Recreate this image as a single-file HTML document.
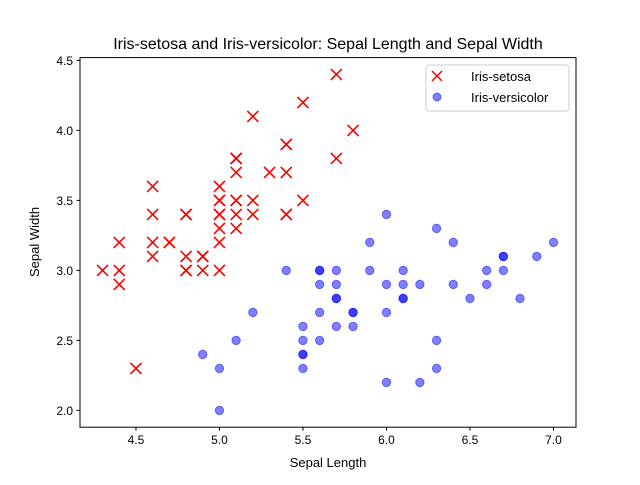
<!DOCTYPE html>
<html><head><meta charset="utf-8"><style>
body{margin:0;background:#fff;}
svg text{font-family:"Liberation Sans","DejaVu Sans",sans-serif;}
</style></head><body>
<svg id="chart" width="640" height="480" xmlns="http://www.w3.org/2000/svg">
<rect width="640" height="480" fill="#fff"/>
<g id="marks"></g>
<rect x="80" y="57.6" width="496" height="369.6" fill="none" stroke="#000" stroke-width="1"/>
<g id="axes"></g>
<text x="328" y="49" text-anchor="middle" font-size="16">Iris-setosa and Iris-versicolor: Sepal Length and Sepal Width</text>
<text x="328" y="467" text-anchor="middle" font-size="13">Sepal Length</text>
<text transform="translate(39,242) rotate(-90)" text-anchor="middle" font-size="13">Sepal Width</text>
<g>
<rect x="426" y="65" width="143" height="46" rx="3" fill="#fff" fill-opacity="0.8" stroke="#ccc"/>
<g>
<path d="M432,71 l10,10 M442,71 l-10,10" stroke="red" stroke-width="1.5"/>
<text x="471" y="81" font-size="13">Iris-setosa</text></g>
<g>
<circle cx="437" cy="97" r="4" fill="blue" fill-opacity="0.5" stroke="blue" stroke-opacity="0.5"/>
<text x="471" y="102" font-size="13">Iris-versicolor</text></g>
</g>
</svg>
<script>
const setosaX=[5.1,4.9,4.7,4.6,5.0,5.4,4.6,5.0,4.4,4.9,5.4,4.8,4.8,4.3,5.8,5.7,5.4,5.1,5.7,5.1,5.4,5.1,4.6,5.1,4.8,5.0,5.0,5.2,5.2,4.7,4.8,5.4,5.2,5.5,4.9,5.0,5.5,4.9,4.4,5.1,5.0,4.5,4.4,5.0,5.1,4.8,5.1,4.6,5.3,5.0];
const setosaY=[3.5,3.0,3.2,3.1,3.6,3.9,3.4,3.4,2.9,3.1,3.7,3.4,3.0,3.0,4.0,4.4,3.9,3.5,3.8,3.8,3.4,3.7,3.6,3.3,3.4,3.0,3.4,3.5,3.4,3.2,3.1,3.4,4.1,4.2,3.1,3.2,3.5,3.1,3.0,3.4,3.5,2.3,3.2,3.5,3.8,3.0,3.8,3.2,3.7,3.3];
const versiX=[7.0,6.4,6.9,5.5,6.5,5.7,6.3,4.9,6.6,5.2,5.0,5.9,6.0,6.1,5.6,6.7,5.6,5.8,6.2,5.6,5.9,6.1,6.3,6.1,6.4,6.6,6.8,6.7,6.0,5.7,5.5,5.5,5.8,6.0,5.4,6.0,6.7,6.3,5.6,5.5,5.5,6.1,5.8,5.0,5.6,5.7,5.7,6.2,5.1,5.7];
const versiY=[3.2,3.2,3.1,2.3,2.8,2.8,3.3,2.4,2.9,2.7,2.0,3.0,2.2,2.9,2.9,3.1,3.0,2.7,2.2,2.5,3.2,2.8,2.5,2.8,2.9,3.0,2.8,3.0,2.9,2.6,2.4,2.4,2.7,2.7,3.0,3.4,3.1,2.3,3.0,2.5,2.6,3.0,2.6,2.3,2.7,3.0,2.9,2.9,2.5,2.8];
const xTicks=[4.5,5.0,5.5,6.0,6.5,7.0];
const yTicks=[2.0,2.5,3.0,3.5,4.0,4.5];
const NS="http://www.w3.org/2000/svg";
const allX=setosaX.concat(versiX),allY=setosaY.concat(versiY);
const xmin=Math.min(...allX),xmax=Math.max(...allX),ymin=Math.min(...allY),ymax=Math.max(...allY);
const xm=(xmax-xmin)*0.05,ym=(ymax-ymin)*0.05;
const L=80,R=576,T=57.6,B=427.2;
function sx(v){return L+(v-(xmin-xm))/((xmax+xm)-(xmin-xm))*(R-L);}
function sy(v){return B-(v-(ymin-ym))/((ymax+ym)-(ymin-ym))*(B-T);}
const marks=document.getElementById('marks'),axes=document.getElementById('axes');
for(let i=0;i<versiX.length;i++){
const c=document.createElementNS(NS,'circle');
c.setAttribute('cx',sx(versiX[i]));c.setAttribute('cy',sy(versiY[i]));c.setAttribute('r',4.2);
c.setAttribute('fill','blue');c.setAttribute('fill-opacity','0.5');c.setAttribute('stroke','blue');c.setAttribute('stroke-opacity','0.5');


marks.appendChild(c);}
for(let i=0;i<setosaX.length;i++){
const x=sx(setosaX[i]),y=sy(setosaY[i]);
const p=document.createElementNS(NS,'path');
p.setAttribute('d',`M${x-5.5},${y-5.5} L${x+5.5},${y+5.5} M${x+5.5},${y-5.5} L${x-5.5},${y+5.5}`);
p.setAttribute('stroke','red');p.setAttribute('stroke-width','1.6');


marks.appendChild(p);}
xTicks.forEach(t=>{const x=sx(t);
const l=document.createElementNS(NS,'line');l.setAttribute('x1',x);l.setAttribute('x2',x);l.setAttribute('y1',B);l.setAttribute('y2',B+3.5);l.setAttribute('stroke','#000');


axes.appendChild(l);
const tx=document.createElementNS(NS,'text');tx.setAttribute('x',x);tx.setAttribute('y',B+17);tx.setAttribute('text-anchor','middle');tx.setAttribute('font-size','12');tx.textContent=t.toFixed(1);


axes.appendChild(tx);});
yTicks.forEach(t=>{const y=sy(t);
const l=document.createElementNS(NS,'line');l.setAttribute('x1',L-3.5);l.setAttribute('x2',L);l.setAttribute('y1',y);l.setAttribute('y2',y);l.setAttribute('stroke','#000');


axes.appendChild(l);
const tx=document.createElementNS(NS,'text');tx.setAttribute('x',L-7);tx.setAttribute('y',y+4.5);tx.setAttribute('text-anchor','end');tx.setAttribute('font-size','12');tx.textContent=t.toFixed(1);


axes.appendChild(tx);});
</script>
</body></html>
